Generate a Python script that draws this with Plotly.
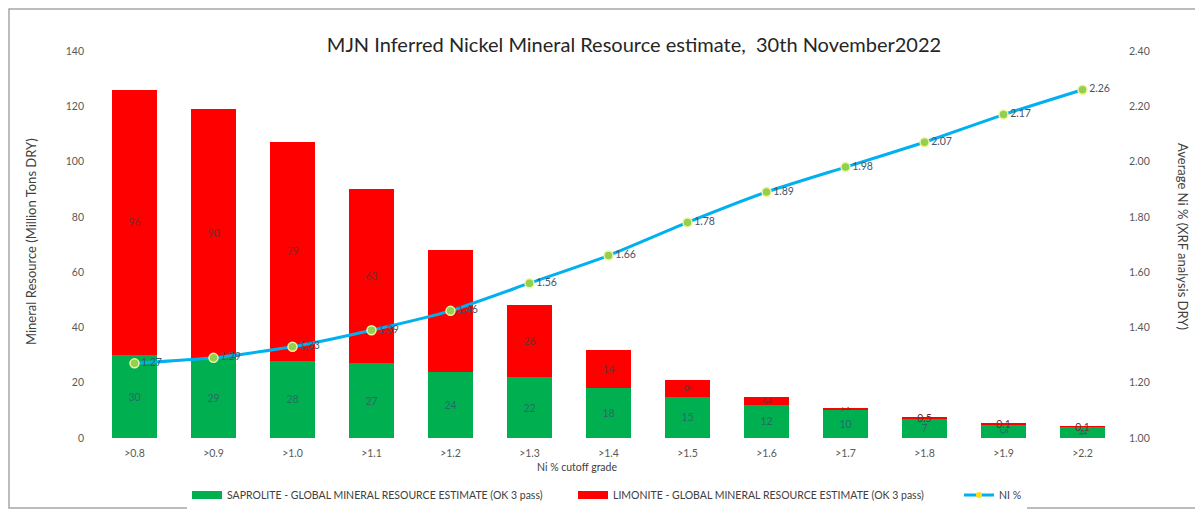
import plotly.graph_objects as go

categories = [">0.8", ">0.9", ">1.0", ">1.1", ">1.2", ">1.3", ">1.4", ">1.5", ">1.6", ">1.7", ">1.8", ">1.9", ">2.2"]
saprolite = [30, 29, 28, 27, 24, 22, 18, 15, 12, 10, 7, 5, 4]
limonite = [96, 90, 79, 63, 44, 26, 14, 6, 3, 1, 0.5, 0.1, 0.1]
ni_pct = [1.27, 1.29, 1.33, 1.39, 1.46, 1.56, 1.66, 1.78, 1.89, 1.98, 2.07, 2.17, 2.26]
left_ticks = [0, 20, 40, 60, 80, 100, 120, 140]
right_ticks = [1.0, 1.2, 1.4, 1.6, 1.8, 2.0, 2.2, 2.4]

SAP_NAME = "SAPROLITE - GLOBAL MINERAL RESOURCE ESTIMATE (OK 3 pass)"
LIM_NAME = "LIMONITE - GLOBAL MINERAL RESOURCE ESTIMATE (OK 3 pass)"
NI_NAME = "NI %"

FONT = "Lato"
GREY = "#595959"
GREEN = "#00B050"
RED = "#FF0000"

W, H = 1203, 515
OFF = 8  # page body offset
# desired plot area on screen: x 95..1122, y 51..438
ML, MT = 95 - OFF, 51 - OFF
MR = W - (1122 - OFF)
MB = H - (438 - OFF)
PW, PH = W - ML - MR, H - MT - MB


def px_x(x):  # screen px -> paper
    return (x - OFF - ML) / PW


def px_y(y):
    return (H - MB - (y - OFF)) / PH


fig = go.Figure()
fig.add_trace(go.Bar(
    x=categories, y=saprolite, name=SAP_NAME, showlegend=False,
    marker=dict(color=GREEN, line=dict(width=0)),
    text=saprolite, texttemplate="%{text}", textposition="inside",
    insidetextanchor="middle", constraintext="none",
    textfont=dict(family=FONT, size=10.5, color="#2A6A66"),
))
fig.add_trace(go.Bar(
    x=categories, y=limonite, name=LIM_NAME, showlegend=False,
    marker=dict(color=RED, line=dict(width=0)),
    text=limonite, texttemplate="%{text}", textposition="inside",
    insidetextanchor="middle", constraintext="none",
    textfont=dict(family=FONT, size=10.5, color="#7A2A2A"),
))
fig.add_trace(go.Scatter(
    x=categories, y=ni_pct, yaxis="y2", name=NI_NAME, showlegend=False,
    mode="lines+markers+text",
    line=dict(color="#00B0F0", width=3, shape="spline", smoothing=0.5),
    marker=dict(color="#92D050", size=9, line=dict(color="#F2F2A0", width=1.5)),
    text=[f"{v:.2f}" for v in ni_pct], textposition="middle right",
    textfont=dict(family=FONT, size=10.5, color="#44546A"),
    cliponaxis=False,
))
# legend-only entries (Excel style wide swatches)
fig.add_trace(go.Scatter(x=[None], y=[None], mode="lines", name=SAP_NAME,
                         line=dict(color=GREEN, width=8), legendwidth=341))
fig.add_trace(go.Scatter(x=[None], y=[None], mode="lines", name=LIM_NAME,
                         line=dict(color=RED, width=8), legendwidth=341))
fig.add_trace(go.Scatter(x=[None], y=[None], yaxis="y2", mode="lines+markers", name=NI_NAME,
                         line=dict(color="#00B0F0", width=3),
                         marker=dict(color="#FFE000", size=6)))

fig.update_layout(
    width=W, height=H,
    margin=dict(l=ML, r=MR, t=MT, b=MB, autoexpand=False),
    paper_bgcolor="white", plot_bgcolor="white",
    barmode="stack", bargap=0.42,
    font=dict(family=FONT, color=GREY),
    title=dict(text="MJN Inferred Nickel Mineral Resource estimate,  30th November2022",
               x=px_x(634), xref="paper", xanchor="center",
               y=1 - (45 - OFF) / H, yanchor="middle",
               font=dict(family=FONT, size=20, color="#262626")),
    xaxis=dict(
        range=[-0.5, len(categories) - 0.5],
        showgrid=False, showline=False, zeroline=False, ticks="",
        tickfont=dict(size=10.5, color=GREY), ticklabelstandoff=7,
        automargin=False,
    ),
    yaxis=dict(
        range=[0, 140], tickvals=left_ticks, showgrid=False, zeroline=False,
        showline=False, ticks="", ticklabelstandoff=10, automargin=False,
        tickfont=dict(size=10.5, color=GREY),
    ),
    yaxis2=dict(
        range=[1.0, 2.4], tickvals=right_ticks, tickformat=".2f",
        overlaying="y", side="right", showgrid=False, zeroline=False,
        showline=False, ticks="", ticklabelstandoff=6, automargin=False,
        tickfont=dict(size=10.5, color=GREY),
    ),
    legend=dict(
        orientation="h", x=px_x(187), xanchor="left", y=px_y(495), yanchor="middle",
        font=dict(size=10.5, color="#404040"), traceorder="normal",
        itemwidth=30,
    ),
    annotations=[
        dict(text="Ni % cutoff grade", x=px_x(577), y=px_y(467),
             xref="paper", yref="paper", showarrow=False,
             xanchor="center", yanchor="middle",
             font=dict(size=10.5, color="#404040")),
        dict(text="Mineral Resource (Million Tons DRY)", x=px_x(31), y=px_y(242),
             xref="paper", yref="paper", textangle=-90, showarrow=False,
             xanchor="center", yanchor="middle",
             font=dict(size=13, color="#404040")),
        dict(text="Average Ni % (XRF analysis DRY)", x=px_x(1183), y=px_y(236),
             xref="paper", yref="paper", textangle=90, showarrow=False,
             xanchor="center", yanchor="middle",
             font=dict(size=13, color="#404040")),
    ],
    shapes=[
        dict(type="rect", xref="paper", yref="paper",
             x0=px_x(9), x1=px_x(1199), y0=px_y(508), y1=px_y(9),
             line=dict(color="#A6A6A6", width=1.5), fillcolor="rgba(0,0,0,0)", layer="below"),
    ],
)

fig.write_html("out.html")
